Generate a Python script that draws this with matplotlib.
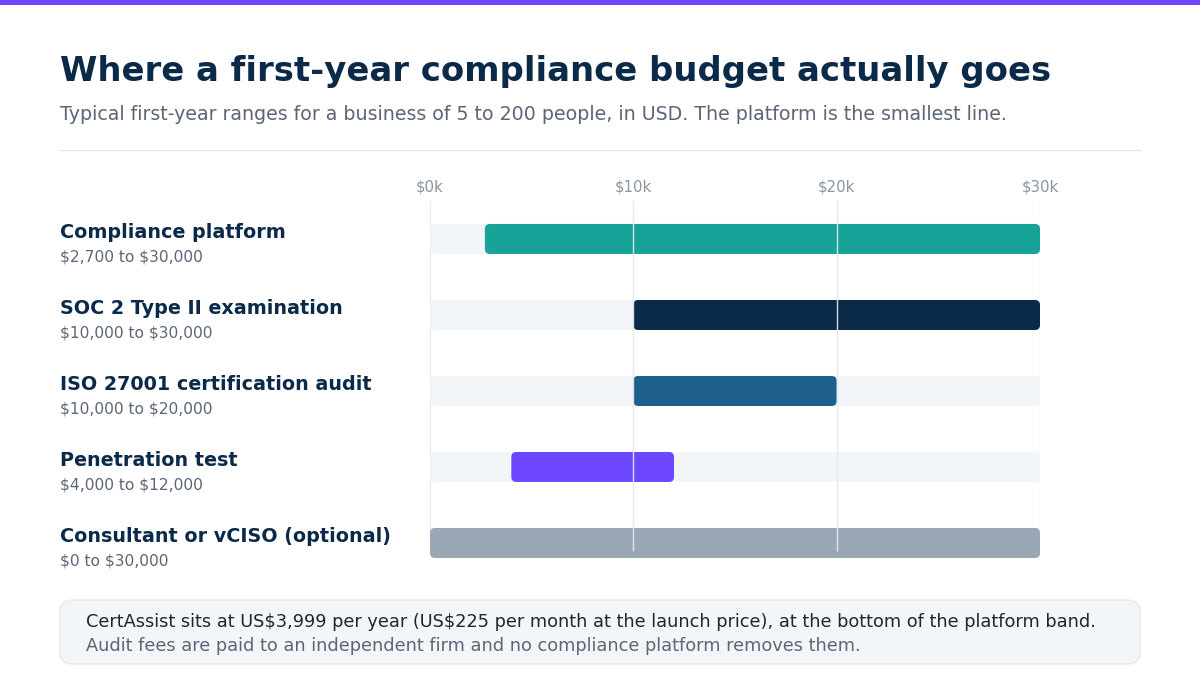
import matplotlib.pyplot as plt
from matplotlib.patches import FancyBboxPatch, Rectangle

plt.rcParams["font.family"] = ["DejaVu Sans"]
plt.rcParams["text.parse_math"] = False

categories = [
    "Compliance platform",
    "SOC 2 Type II examination",
    "ISO 27001 certification audit",
    "Penetration test",
    "Consultant or vCISO (optional)",
]
range_labels = [
    "$2,700 to $30,000",
    "$10,000 to $30,000",
    "$10,000 to $20,000",
    "$4,000 to $12,000",
    "$0 to $30,000",
]
low = [2700, 10000, 10000, 4000, 0]
high = [30000, 30000, 20000, 12000, 30000]
colors = ["#17a398", "#0b2a4a", "#1f5f8b", "#6c47ff", "#9aa7b4"]
ticks = [0, 10000, 20000, 30000]
tick_labels = ["$0k", "$10k", "$20k", "$30k"]

NAVY = "#0b2a4a"
GREY = "#5b6676"

fig = plt.figure(figsize=(12, 7), dpi=100)

# overlay in pixel coordinates for text and decoration
ov = fig.add_axes([0, 0, 1, 1])
ov.set_xlim(0, 1200)
ov.set_ylim(700, 0)
ov.axis("off")
ov.add_patch(Rectangle((0, 0), 1200, 5, color="#6c47ff", lw=0))
ov.text(60, 72, "Where a first-year compliance budget actually goes",
        fontsize=24.4, fontweight="bold", color=NAVY, va="center")
ov.text(60, 114, "Typical first-year ranges for a business of 5 to 200 people, in USD. "
        "The platform is the smallest line.", fontsize=13.7, color=GREY, va="center")
ov.plot([60, 1140], [150, 150], color="#e3e7ec", lw=1)

for i, (name, rng) in enumerate(zip(categories, range_labels)):
    y = 232 + 76 * i
    ov.text(60, y, name, fontsize=13.8, fontweight="bold", color=NAVY, va="center")
    ov.text(60, y + 25, rng, fontsize=11.2, color=GREY, va="center")

ov.add_patch(FancyBboxPatch((60, 600), 1080, 64, boxstyle="round,pad=0,rounding_size=12",
                            facecolor="#f3f6f9", edgecolor="#e6ebf0", lw=1))
ov.text(86, 622, "CertAssist sits at US$3,999 per year (US$225 per month at the launch price), "
        "at the bottom of the platform band.", fontsize=12.8, color="#1d2733", va="center")
ov.text(86, 646, "Audit fees are paid to an independent firm and no compliance platform removes them.",
        fontsize=12.8, color=GREY, va="center")

# chart axes: x 430..1040 px, y 200..560 px
ax = fig.add_axes([430 / 1200, 140 / 700, 610 / 1200, 360 / 700])
ax.set_xlim(0, 30000)
ax.set_ylim(4.224, -0.513)
ax.axis("off")

px_x = 30000 / 610
px_y = 1 / 76
r = 5 * px_x
aspect = px_y / px_x
h = 30 * px_y

for i in range(len(categories)):
    ax.add_patch(FancyBboxPatch((0, i - h / 2), 30000, h,
                                boxstyle=f"round,pad=0,rounding_size={r}",
                                mutation_aspect=aspect, facecolor="#f3f6f9", lw=0, zorder=1))
    ax.add_patch(FancyBboxPatch((low[i], i - h / 2), high[i] - low[i], h,
                                boxstyle=f"round,pad=0,rounding_size={r}",
                                mutation_aspect=aspect, facecolor=colors[i], lw=0, zorder=2))

for t, lab in zip(ticks, tick_labels):
    ax.vlines(t, -0.513, 4.105, color="#e8ecf0", lw=1, zorder=1.5)
    ax.text(t, -0.68, lab, ha="center", va="center", fontsize=10.8, color="#8a94a3")
for t in ticks[1:3]:
    ax.vlines(t, -0.513, 4.105, color="#e8ecf0", lw=1, zorder=3, alpha=0.9)

fig.savefig("out.png", dpi=100)
